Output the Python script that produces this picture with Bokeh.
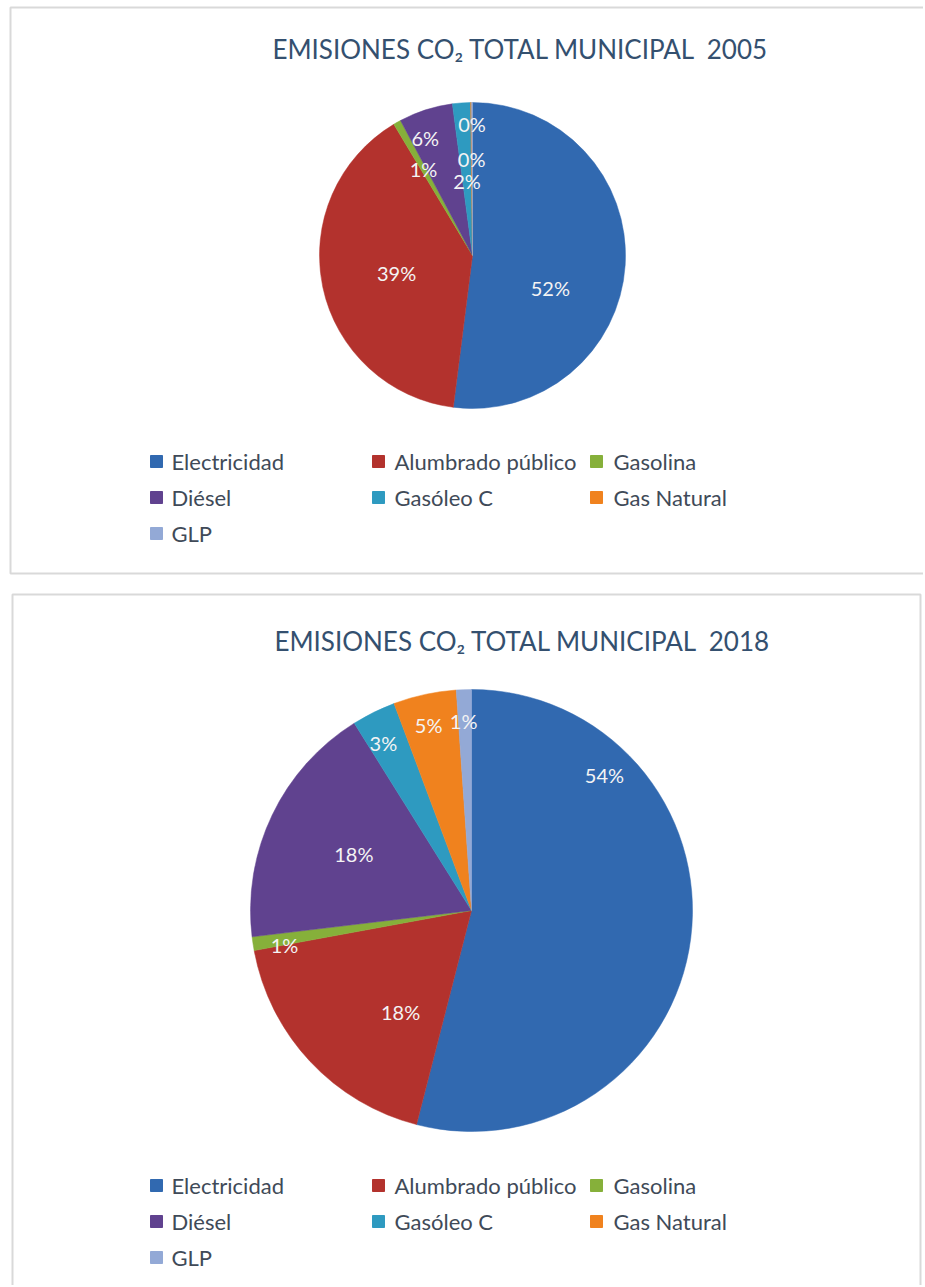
import math
from bokeh.plotting import figure
from bokeh.models import Range1d, ColumnDataSource
from bokeh.core.properties import value
from bokeh.embed import file_html
from bokeh.resources import INLINE

# ---------------- data ----------------
categories = ["Electricidad", "Alumbrado público", "Gasolina", "Diésel",
              "Gasóleo C", "Gas Natural", "GLP"]
values_2005 = [52.0, 39.4, 0.8, 5.7, 1.9, 0.1, 0.1]
values_2018 = [54.0, 18.1, 1.0, 18.0, 3.2, 4.6, 1.1]
years = ["2005", "2018"]
title_text = "EMISIONES CO₂ TOTAL MUNICIPAL\u00a0 "

# ---------------- style / layout ----------------
colors = ["#3169B0", "#B3322D", "#86B03A", "#60428F", "#2E9AC0", "#F0821E", "#93A9D6"]
FONT = "Lato"
W, H = 923, 1285

def Y(py):  # page y (px) -> data y
    return -py

layouts = [
    dict(cx=472, cy=255, r=153, tx=520, ty=48, ly=461,
         lab_off=[18.8, -1.4, 0.0, -4.0, 0.0, 0.0, 0.0],
         lab_r=[0.55, 0.51, 0.65, 0.83, 0.49, 0.63, 0.86]),
    dict(cx=471, cy=910, r=221, tx=522, ty=640, ly=1185,
         lab_off=[-52.8, -12.0, -1.7, 0.0, -1.5, -0.8, -0.4],
         lab_r=[0.86, 0.56, 0.86, 0.59, 0.855, 0.86, 0.86]),
]
legend_cols_sq = [156, 378, 596]
legend_cols_tx = [171, 394, 613]
legend_dy = 36

p = figure(width=W, height=H, output_backend="svg", toolbar_location=None,
           x_range=Range1d(0, W), y_range=Range1d(Y(H), Y(0)),
           min_border=0, outline_line_color=None)
p.axis.visible = False
p.grid.visible = False

# panel frames
p.quad(left=[10], right=[960], top=[Y(7)], bottom=[Y(573)],
       fill_color="white", line_color="#D9D9D9", line_width=2)
p.quad(left=[12], right=[920], top=[Y(594)], bottom=[Y(1320)],
       fill_color="white", line_color="#D9D9D9", line_width=2)

for vals, year, L in zip([values_2005, values_2018], years, layouts):
    total = sum(vals)
    cum = [0.0]
    for v in vals:
        cum.append(cum[-1] + v / total)
    starts = [math.pi / 2 - 2 * math.pi * c for c in cum[:-1]]
    ends = [math.pi / 2 - 2 * math.pi * c for c in cum[1:]]
    src = ColumnDataSource(dict(start=starts, end=ends, color=colors, cat=categories))
    p.wedge(x=L["cx"], y=Y(L["cy"]), radius=L["r"], start_angle="start", end_angle="end",
            direction="clock", fill_color="color", line_color="color", line_width=0.5,
            source=src)

    # data labels
    lx, ly, lt = [], [], []
    for i, v in enumerate(vals):
        mid = (cum[i] + cum[i + 1]) / 2 * 360.0 + L["lab_off"][i]
        rr = L["r"] * L["lab_r"][i]
        lx.append(L["cx"] + rr * math.sin(math.radians(mid)))
        ly.append(Y(L["cy"] - rr * math.cos(math.radians(mid))))
        lt.append(f"{round(v / total * 100):d}%")
    p.text(x=lx, y=ly, text=lt, text_align="center", text_baseline="middle",
           text_font=value(FONT), text_font_size="20px", text_color="#F4F4F4")

    # title
    p.text(x=[L["tx"]], y=[Y(L["ty"])], text=[title_text + year], text_align="center",
           text_baseline="middle", text_font=value(FONT), text_font_size="26px",
           text_color="#34506F")

    # legend
    sqx, sqy, tx, ty = [], [], [], []
    for i, c in enumerate(categories):
        row, col = divmod(i, 3)
        sqx.append(legend_cols_sq[col]); sqy.append(Y(L["ly"] + row * legend_dy))
        tx.append(legend_cols_tx[col]); ty.append(Y(L["ly"] + row * legend_dy))
    p.scatter(x=sqx, y=sqy, marker="square", size=12, fill_color=colors, line_color=colors)
    p.text(x=tx, y=ty, text=categories, text_align="left", text_baseline="middle",
           text_font=value(FONT), text_font_size="22px", text_color="#404A58")

open("out.html", "w").write(file_html(p, INLINE))
